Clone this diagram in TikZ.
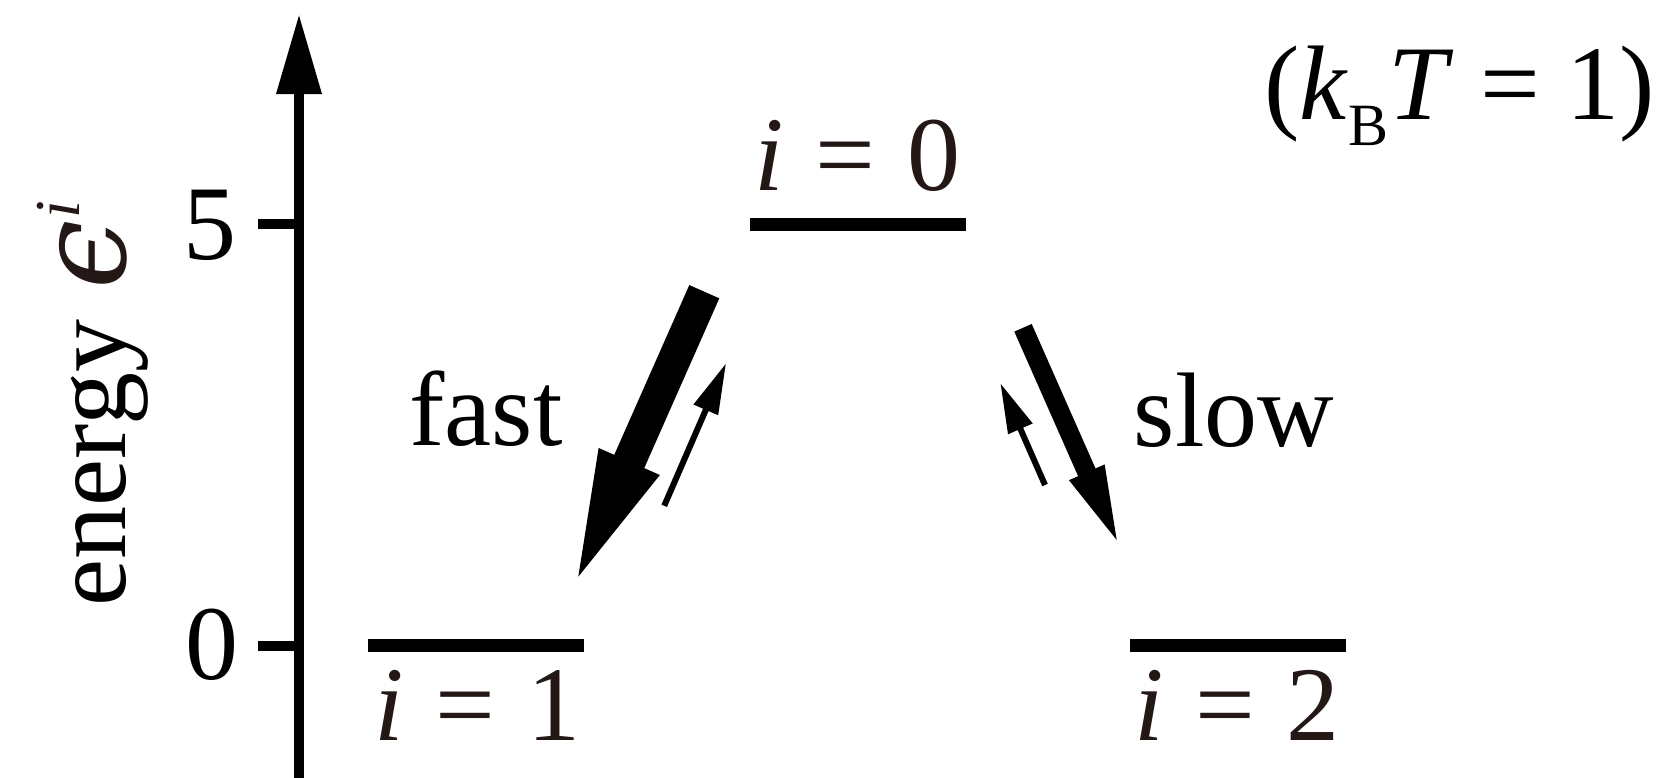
\documentclass[tikz,border=0pt]{standalone}
\usepackage{fontspec}
\setmainfont{Liberation Serif}
\newfontfamily\epsfont{DejaVu Serif}
\usetikzlibrary{arrows.meta,calc}
\definecolor{ink}{RGB}{35,24,21}
\tikzset{
  lab/.style={inner sep=0pt, font=\fontsize{53pt}{60pt}\selectfont},
  mlab/.style={lab, text=ink},
  level/.style={fill=black, inner sep=0pt, minimum width=108pt, minimum height=6.5pt},
  tickline/.style={line width=5.2pt},
  blockarrow/.style={fill=black, draw=none},
}
\newcommand{\eqsp}{\hspace{0.3em}=\hspace{0.3em}}
% #1 tail, #2 tip, #3 shaft half width, #4 head length, #5 head half width
\newcommand{\blockarr}[5]{%
  \coordinate (#1-hb) at ($(#2)!#4!(#1)$);
  \fill[blockarrow]
    ($(#1)!#3!90:(#2)$) -- ($(#1-hb)!#3!90:(#2)$) -- ($(#1-hb)!#5!90:(#2)$)
    -- (#2) -- ($(#1-hb)!#5!-90:(#2)$) -- ($(#1-hb)!#3!-90:(#2)$)
    -- ($(#1)!#3!-90:(#2)$) -- cycle;}
\begin{document}
\begin{tikzpicture}[x=0.5pt, y=-0.5pt]
\useasboundingbox (0,0) rectangle (1665,777);
% axis
\coordinate (axb) at (299,790);
\coordinate (axt) at (299,14);
\draw[line width=5pt, -{Triangle[length=40pt,width=21.5pt]}] (axb) -- (axt);
\coordinate (t5a) at (258,224);
\coordinate (t5b) at (299,224);
\coordinate (t0a) at (258,646);
\coordinate (t0b) at (299,646);
\draw[tickline] (t5a) -- (t5b);
\draw[tickline] (t0a) -- (t0b);
\node[lab, anchor=base] (n5) at (210,259) {5};
\node[lab, anchor=base] (n0) at (211.5,679) {0};
\node[lab, rotate=90, anchor=base west] (elab) at (125,606.7)
  {energy\hspace{15pt}{\color{ink}{\epsfont\fontsize{62pt}{66pt}\selectfont\itshape ϵ}\hspace{1pt}\raisebox{23pt}{\fontsize{32pt}{34pt}\selectfont\itshape i}}};
% levels
\node[level] (lvl0) at (857.5,224) {};
\node[level] (lvl1) at (476.3,645.7) {};
\node[level] (lvl2) at (1238.3,645.7) {};
\node[mlab, anchor=base] (l0) at (857.5,190) {\textit{i}\eqsp0};
\node[mlab, anchor=base] (l1) at (477.5,740.7) {\textit{i}\eqsp1};
\node[mlab, anchor=base] (l2) at (1237,740.7) {\textit{i}\eqsp2};
% rate labels
\node[lab, anchor=base] (fast) at (486,445) {fast};
\node[lab, anchor=base] (slow) at (1234,446) {slow};
\node[lab, anchor=base east] (kbt) at (1655,119.3) {(\textit{k}\raisebox{-13pt}{\fontsize{30pt}{34pt}\selectfont B}\textit{T}\hspace{0.25em}=\hspace{0.25em}1)};
% arrows
\coordinate (fbT) at (704.3,291.7);
\coordinate (fbP) at (578.3,576.7);
\coordinate (fsT) at (664.2,505.8);
\coordinate (fsP) at (725.7,364);
\coordinate (sbT) at (1023,327.8);
\coordinate (sbP) at (1116.7,540);
\coordinate (ssT) at (1045,485);
\coordinate (ssP) at (1000.7,384);
\blockarr{fbT}{fbP}{8.2pt}{63pt}{16.75pt}
\blockarr{fsT}{fsP}{1.5pt}{25pt}{6.75pt}
\blockarr{sbT}{sbP}{4.75pt}{37pt}{9.75pt}
\blockarr{ssT}{ssP}{1.5pt}{24.5pt}{6.75pt}
\end{tikzpicture}
\end{document}
